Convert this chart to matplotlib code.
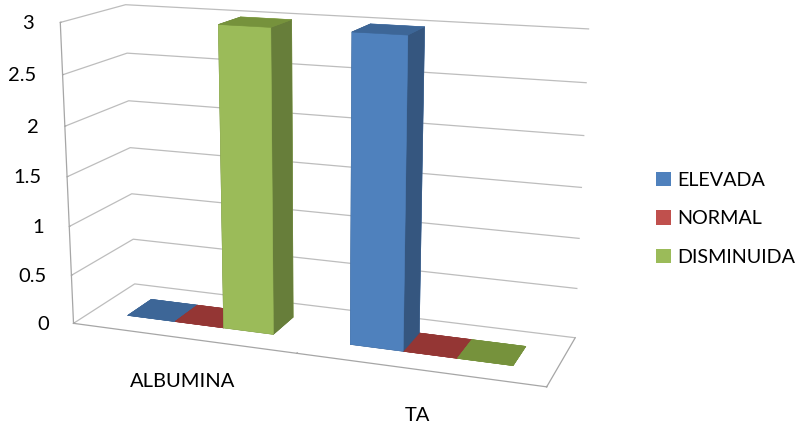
import numpy as np
import matplotlib.pyplot as plt
from matplotlib.patches import Patch

categorias = ['ALBUMINA', 'TA']
series = ['ELEVADA', 'NORMAL', 'DISMINUIDA']
elevada = [0, 3]
normal = [0, 0]
disminuida = [3, 0]
ticks_z = [0, 0.5, 1, 1.5, 2, 2.5, 3]
rotulos_z = ['0', '0.5', '1', '1.5', '2', '2.5', '3']

# cores estilo Excel: frente, lateral e topo de cada série
cor_frente = ['#4F81BD', '#C0504D', '#9BBB59']
cor_lado = ['#35567F', '#833533', '#677E3A']
cor_topo = ['#3D6697', '#943634', '#76923C']

plt.rcParams['font.family'] = ['Lato', 'DejaVu Sans']

fig = plt.figure(figsize=(8.03, 4.21), dpi=100)
ax = fig.add_axes([0.0146, -0.2018, 0.75, 1.5], projection='3d')

# câmera ajustada para imitar a perspectiva do gráfico 3D do Excel
ax.view_init(elev=14.48, azim=-69.73)
ax.set_proj_type('persp', focal_length=0.458)
ax.set_box_aspect((1, 0.278, 0.632), zoom=0.975)

# barras agrupadas (largura com espaçamento de 150%)
w = 1 / 4.5
valores = [elevada, normal, disminuida]
xs, dzs, cores = [], [], []
for s in range(len(series)):
    for c in range(len(categorias)):
        xs.append(c + (1 - len(series) * w) / 2 + s * w)
        dzs.append(valores[s][c])
        if valores[s][c] == 0:
            cores += [cor_topo[s]] * 6
        else:
            # ordem das faces: -z, +z, -y, +y, -x, +x
            cores += [cor_lado[s], cor_topo[s], cor_frente[s], cor_frente[s], cor_lado[s], cor_lado[s]]
n = len(xs)
ax.bar3d(xs, [0.3] * n, [0] * n, w, 0.4, dzs, color=cores, shade=False,
         edgecolor=cores, linewidth=0.4)

for eixo in (ax.xaxis, ax.yaxis, ax.zaxis):
    eixo.set_pane_color((1, 1, 1, 0))
    eixo.pane.set_edgecolor((1, 1, 1, 0))
    eixo.line.set_color('#A6A6A6')
    eixo.line.set_linewidth(0.9)
    eixo._axinfo['grid']['color'] = '#BDBDBD'
    eixo._axinfo['grid']['linewidth'] = 0.9
    eixo._axinfo['tick']['inward_factor'] = 0
    eixo._axinfo['tick']['outward_factor'] = 0.15
    eixo.label.set_visible(False)
    eixo.offsetText.set_visible(False)
ax.xaxis._axinfo['grid']['color'] = (1, 1, 1, 0)
ax.yaxis._axinfo['grid']['color'] = (1, 1, 1, 0)
ax.zaxis.set_ticks_position('lower')
ax.zaxis.set_label_position('lower')

ax.set_xticks(range(len(categorias) + 1))
ax.set_xticklabels([''] * (len(categorias) + 1))
ax.set_yticks([])
ax.set_zticks(ticks_z)
ax.set_zticklabels(rotulos_z)
for lbl in ax.get_zticklabels():
    lbl.set_horizontalalignment('right')
    lbl.set_verticalalignment('center_baseline')
ax.tick_params(axis='both', color='#A6A6A6', labelsize=14.5)
ax.set_xlim(0, 2)
ax.set_ylim(0, 1)
ax.set_zlim(0, 3)

for c, nome in enumerate(categorias):
    ax.text(c + 0.5, 0, -0.45, nome, fontsize=14.5, ha='center', va='center')

alcas = [Patch(facecolor=cor_frente[i], label=series[i]) for i in range(len(series))]
fig.legend(handles=alcas, loc='center left', bbox_to_anchor=(0.815, 0.48), frameon=False,
           fontsize=14.2, handlelength=0.72, handleheight=0.72, handletextpad=0.35,
           labelspacing=1.1, borderaxespad=0, borderpad=0.1)

fig.savefig('out.png', dpi=100)
